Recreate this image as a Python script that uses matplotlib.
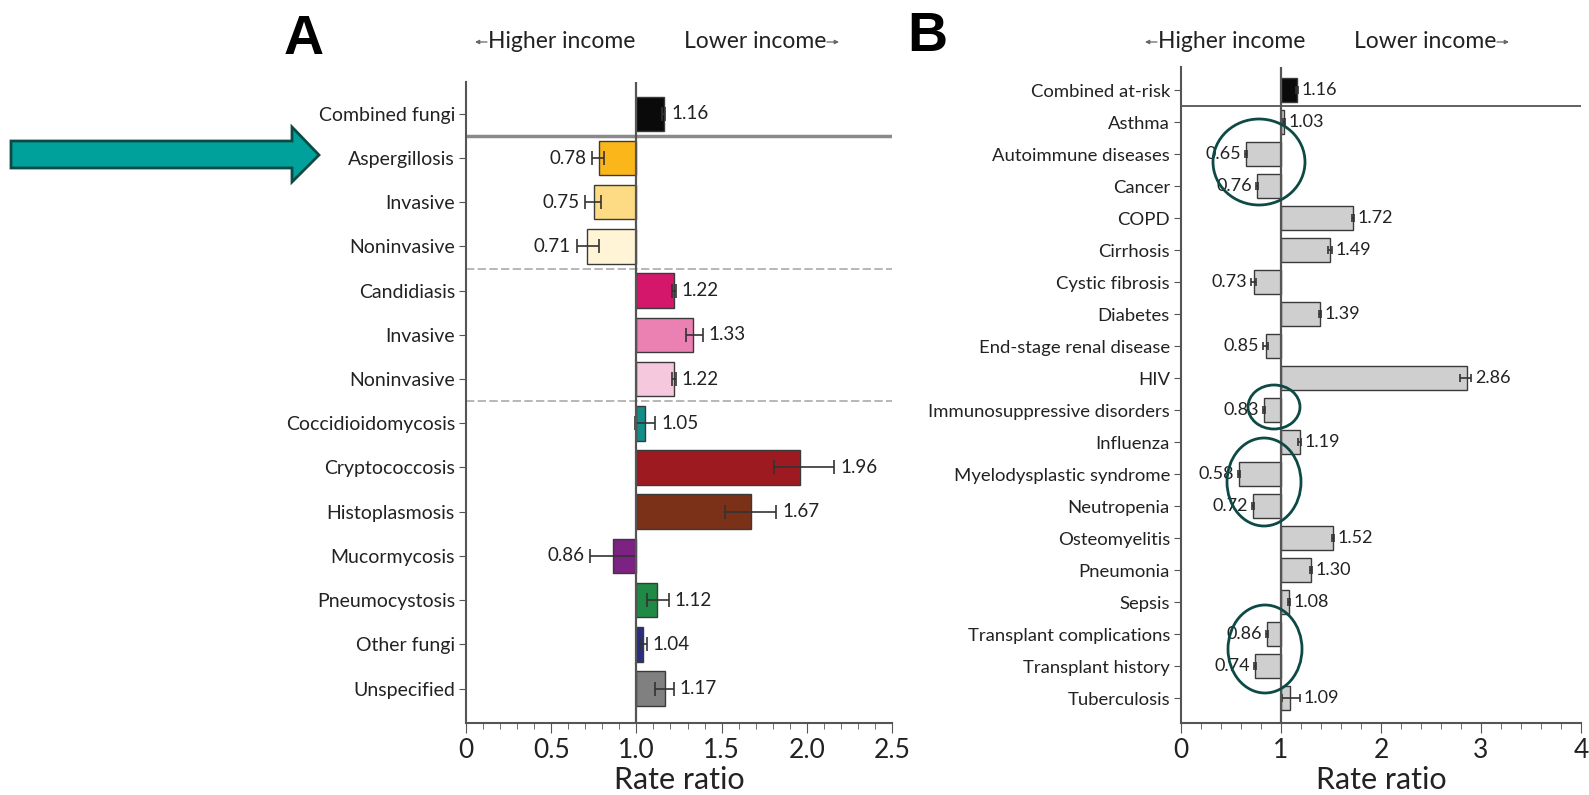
import matplotlib
matplotlib.use("Agg")
import matplotlib.pyplot as plt
from matplotlib.patches import Ellipse, Polygon
from matplotlib.ticker import MultipleLocator

plt.rcParams['font.family'] = ['Lato', 'DejaVu Sans']

# ---- Panel A: fungal infections ----
fungi_labels = ["Combined fungi", "Aspergillosis", "Invasive", "Noninvasive",
                "Candidiasis", "Invasive", "Noninvasive", "Coccidioidomycosis",
                "Cryptococcosis", "Histoplasmosis", "Mucormycosis",
                "Pneumocystosis", "Other fungi", "Unspecified"]
fungi_rr = [1.16, 0.78, 0.75, 0.71, 1.22, 1.33, 1.22, 1.05, 1.96, 1.67,
            0.86, 1.12, 1.04, 1.17]
fungi_lo = [1.15, 0.74, 0.70, 0.65, 1.21, 1.29, 1.21, 0.99, 1.81, 1.52,
            0.73, 1.06, 1.02, 1.11]
fungi_hi = [1.17, 0.81, 0.79, 0.78, 1.23, 1.39, 1.23, 1.11, 2.16, 1.82,
            1.00, 1.19, 1.06, 1.22]
fungi_colors = ["#0a0a0a", "#FBB719", "#FDDB84", "#FFF4D6", "#D5176C",
                "#EB80B2", "#F6C8DD", "#128C89", "#9D1B20", "#7A3118",
                "#7B2283", "#1F8A45", "#2B2D84", "#808080"]

# ---- Panel B: at-risk conditions ----
cond_labels = ["Combined at-risk", "Asthma", "Autoimmune diseases", "Cancer",
               "COPD", "Cirrhosis", "Cystic fibrosis", "Diabetes",
               "End-stage renal disease", "HIV", "Immunosuppressive disorders",
               "Influenza", "Myelodysplastic syndrome", "Neutropenia",
               "Osteomyelitis", "Pneumonia", "Sepsis",
               "Transplant complications", "Transplant history", "Tuberculosis"]
cond_rr = [1.16, 1.03, 0.65, 0.76, 1.72, 1.49, 0.73, 1.39, 0.85, 2.86, 0.83,
           1.19, 0.58, 0.72, 1.52, 1.30, 1.08, 0.86, 0.74, 1.09]
cond_lo = [1.15, 1.02, 0.64, 0.75, 1.71, 1.47, 0.70, 1.38, 0.82, 2.79, 0.82,
           1.17, 0.57, 0.71, 1.51, 1.29, 1.07, 0.85, 0.73, 1.01]
cond_hi = [1.17, 1.04, 0.66, 0.77, 1.73, 1.51, 0.75, 1.40, 0.87, 2.90, 0.84,
           1.20, 0.59, 0.73, 1.53, 1.31, 1.09, 0.87, 0.75, 1.19]
cond_colors = ["#0a0a0a"] + ["#CFCFCF"] * (len(cond_labels) - 1)

W, H = 1589, 795
fig = plt.figure(figsize=(W / 100, H / 100), dpi=100)


def px_axes(x0, y0, x1, y1):
    return fig.add_axes([x0 / W, 1 - y1 / H, (x1 - x0) / W, (y1 - y0) / H])


def draw_panel(ax, labels, rr, lo, hi, colors, xmax, bar_h, capsize,
               lab_fs, val_fs, gap):
    n = len(labels)
    ys = list(range(n))
    ax.barh(ys, [v - 1 for v in rr], left=1, height=bar_h, color=colors,
            edgecolor="#3a3a3a", linewidth=1.0, zorder=2)
    xerr = [[v - l for v, l in zip(rr, lo)], [h - v for v, h in zip(rr, hi)]]
    ax.errorbar(rr, ys, xerr=xerr, fmt="none", ecolor="#333333",
                elinewidth=1.2, capsize=capsize, capthick=1.2, zorder=3)
    for y, v, l, h in zip(ys, rr, lo, hi):
        if v >= 1:
            ax.text(max(v, h) + gap, y, f"{v:.2f}", va="center", ha="left",
                    fontsize=val_fs, color="#222222", zorder=4)
        else:
            ax.text(min(v, l) - gap, y, f"{v:.2f}", va="center", ha="right",
                    fontsize=val_fs, color="#222222", zorder=4)
    ax.set_yticks(ys)
    ax.set_yticklabels(labels, fontsize=lab_fs, color="#222222")
    ax.set_ylim(n - 1 + 0.78, -0.72)
    ax.set_xlim(0, xmax)
    ax.axvline(1, color="#555555", lw=1.6, zorder=4)
    for s in ("top", "right"):
        ax.spines[s].set_visible(False)
    for s in ("left", "bottom"):
        ax.spines[s].set_color("#555555")
        ax.spines[s].set_linewidth(1.5)
    ax.tick_params(axis="y", length=5, color="#555555", pad=3)
    ax.tick_params(axis="x", which="major", length=7, color="#555555",
                   labelsize=19, pad=4, labelcolor="#222222")
    ax.tick_params(axis="x", which="minor", length=4, color="#555555")
    ax.set_xlabel("Rate ratio", fontsize=22, color="#222222", labelpad=2)


axA = px_axes(466, 82, 892, 723)
draw_panel(axA, fungi_labels, fungi_rr, fungi_lo, fungi_hi, fungi_colors,
           2.5, 0.78, 5, 14, 13.5, 0.035)
axA.set_xticks([0, 0.5, 1.0, 1.5, 2.0, 2.5])
axA.set_xticklabels(["0", "0.5", "1.0", "1.5", "2.0", "2.5"])
axA.xaxis.set_minor_locator(MultipleLocator(0.1))
axA.axhline(0.5, color="#8a8a8a", lw=2.5, zorder=1)
for yy in (3.5, 6.5):
    axA.axhline(yy, color="#aaaaaa", lw=1.2, ls=(0, (5, 2)), zorder=1)

axB = px_axes(1181, 67, 1581, 723)
draw_panel(axB, cond_labels, cond_rr, cond_lo, cond_hi, cond_colors,
           4, 0.77, 3, 13.3, 13, 0.04)
axB.set_xticks([0, 1, 2, 3, 4])
axB.xaxis.set_minor_locator(MultipleLocator(0.2))
axB.axhline(0.5, color="#555555", lw=1.3, zorder=1)


def ftext(x, y, s, **kw):
    fig.text(x / W, 1 - y / H, s, **kw)


def farrow(x0, x1, y):
    fig.add_artist(plt.Annotation(
        "", xy=(x1 / W, 1 - y / H), xytext=(x0 / W, 1 - y / H),
        xycoords="figure fraction", textcoords="figure fraction",
        arrowprops=dict(arrowstyle="-|>", color="#666666", lw=0.9,
                        mutation_scale=6, shrinkA=0, shrinkB=0)))


# Panel letters and direction headers
ftext(304, 40, "A", fontsize=40, fontweight="bold", ha="center", va="center",
      family="Liberation Sans")
ftext(927, 37, "B", fontsize=40, fontweight="bold", ha="center", va="center",
      family="Liberation Sans")

for hx0, lx1 in ((488, 826), (1158, 1496)):
    ftext(hx0, 42, "Higher income", fontsize=16.5, ha="left", va="center",
          color="#222222")
    farrow(hx0 - 1, hx0 - 13, 42)
    ftext(lx1, 42, "Lower income", fontsize=16.5, ha="right", va="center",
          color="#222222")
    farrow(lx1 + 1, lx1 + 13, 42)

# Highlight arrow pointing at Aspergillosis
arrow_px = [(11, 141), (292, 141), (292, 127), (319, 155), (292, 182),
            (292, 168), (11, 168)]
fig.add_artist(Polygon([(x / W, 1 - y / H) for x, y in arrow_px],
                       closed=True, transform=fig.transFigure,
                       facecolor="#00A19A", edgecolor="#0C4A46", lw=2))

# Outlines around conditions with lower rates
for cx, cy, ew, eh in ((1259, 162, 92, 86), (1274, 407, 52, 44),
                       (1264, 482, 74, 88), (1265, 649, 74, 88)):
    fig.add_artist(Ellipse((cx / W, 1 - cy / H), ew / W, eh / H,
                           transform=fig.transFigure, fill=False,
                           edgecolor="#0E4A45", lw=2, zorder=10))

fig.savefig("out.png", dpi=100)
